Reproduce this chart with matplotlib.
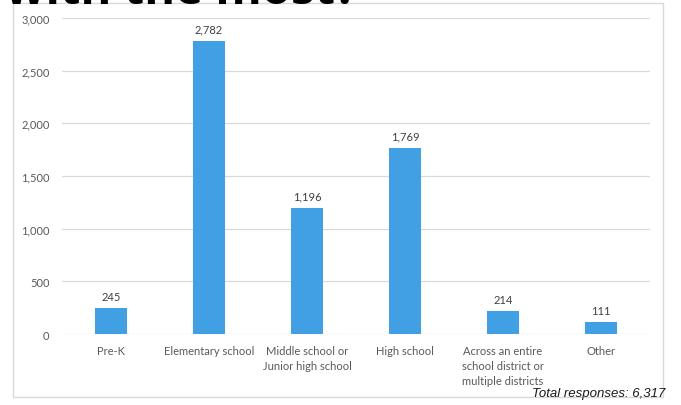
import matplotlib.pyplot as plt
from matplotlib.patches import Rectangle

categories = ['Pre-K', 'Elementary school', 'Middle school or\nJunior high school',
              'High school', 'Across an entire\nschool district or\nmultiple districts', 'Other']
values = [245, 2782, 1196, 1769, 214, 111]
yticks = [0, 500, 1000, 1500, 2000, 2500, 3000]

plt.rcParams['font.family'] = ['Lato', 'DejaVu Sans']

fig = plt.figure(figsize=(6.81, 4.06), dpi=100)
W, H = 681, 406
ax = fig.add_axes([62 / W, 1 - 335 / H, (650 - 62) / W, (335 - 19) / H])

# chart border
fig.patches.append(Rectangle((13 / W, 1 - 398 / H), (663 - 13) / W, (398 - 4) / H,
                             transform=fig.transFigure, fill=False,
                             edgecolor='#d9d9d9', linewidth=1))

x = range(len(categories))
bars = ax.bar(x, values, width=0.32, color='#419fe4', zorder=3)
for xi, v in zip(x, values):
    ax.text(xi, v + 60, f'{v:,}', ha='center', va='bottom', fontsize=8, color='#404040')

ax.set_xlim(-0.5, len(categories) - 0.5)
ax.set_ylim(0, 3000)
ax.set_yticks(yticks)
ax.set_yticklabels([f'{t:,}' for t in yticks], fontsize=8, color='#595959')
ax.set_xticks(list(x))
ax.set_xticklabels(categories, fontsize=8, color='#595959', linespacing=1.45)
ax.tick_params(length=0, pad=8)
ax.tick_params(axis='y', pad=9)
ax.yaxis.grid(True, color='#d9d9d9', linewidth=0.9, zorder=0)
for s in ax.spines.values():
    s.set_visible(False)

# title cut off by the top edge, as in the source slide
fig.text(5 / W, 1 - 4.5 / H, 'with the most?', fontsize=34, fontweight='bold',
         color='black', ha='left', va='baseline', family=['Open Sans', 'DejaVu Sans'])
fig.text(665 / W, 1 - 397 / H, 'Total responses: 6,317', fontsize=9.5, style='italic',
         color='#1a1a1a', ha='right', va='baseline', family=['Liberation Sans', 'DejaVu Sans'])

fig.savefig('out.png', dpi=100)
